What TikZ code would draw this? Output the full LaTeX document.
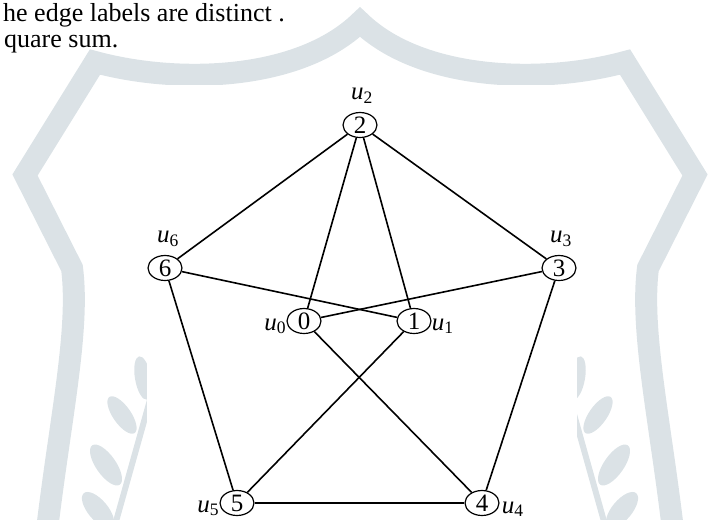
\documentclass[tikz,border=0pt]{standalone}
\usepackage{fontspec}
\setmainfont{Liberation Serif}
\usepackage{xcolor}
\usepackage{tikz}
\usetikzlibrary{shapes.geometric}
\definecolor{wmark}{RGB}{219,226,230}

\begin{document}
\begin{tikzpicture}[x=1pt, y=-1pt,
  vtx/.style={ellipse, draw, line width=1.2pt, minimum width=34pt,
              minimum height=25pt, inner sep=0pt, fill=white,
              font=\fontsize{25}{25}\selectfont},
  ulab/.style={inner sep=0pt, font=\fontsize{25}{25}\selectfont},
  edge/.style={line width=1.6pt},
  txt/.style={anchor=base west, inner sep=0pt, font=\fontsize{26}{30}\selectfont},
  leaf/.style={fill=wmark}
]
\useasboundingbox (0,0) rectangle (713,520);

%% ---- watermark (shield + branches) ----
\draw[wmark, line width=22pt, line join=miter]
  (47,530) .. controls (60,420) and (80,330) .. (72,268) -- (25,175) -- (95,62)
  .. controls (180,85) and (300,80) .. (360,22)
  .. controls (420,80) and (540,85) .. (625,62) -- (695,175) -- (648,268)
  .. controls (640,330) and (660,420) .. (673,530);
\foreach \sx/\dx in {1/0, -1/720} {
  \begin{scope}[xshift=\dx pt, xscale=\sx]
    \draw[wmark, line width=6pt] (150,400) -- (115,525);
    \fill[leaf, rotate around={10:(143,378)}] (143,378) ellipse [x radius=8, y radius=22];
    \fill[leaf, rotate around={35:(122,415)}] (122,415) ellipse [x radius=9, y radius=22];
    \fill[leaf, rotate around={35:(106,465)}] (106,465) ellipse [x radius=10, y radius=24];
    \fill[leaf, rotate around={40:(98,510)}] (98,510) ellipse [x radius=10, y radius=22];
  \end{scope}
}
\fill[white] (147,85) rectangle (577,522);

%% ---- caption text ----
\node[txt] (capA) at (3,21) {he edge labels are distinct .};
\node[txt] (capB) at (4,47) {quare sum.};

%% ---- vertices ----
\node[vtx] (v2) at (360,125) {2};
\node[vtx] (v6) at (165,268) {6};
\node[vtx] (v3) at (559,268) {3};
\node[vtx] (v0) at (304,321) {0};
\node[vtx] (v1) at (414,321) {1};
\node[vtx] (v5) at (237,503) {5};
\node[vtx] (v4) at (482,503) {4};

%% ---- edges ----
\draw[edge] (v2) -- (v6);
\draw[edge] (v2) -- (v3);
\draw[edge] (v6) -- (v5);
\draw[edge] (v3) -- (v4);
\draw[edge] (v5) -- (v4);
\draw[edge] (v2) -- (v0);
\draw[edge] (v2) -- (v1);
\draw[edge] (v6) -- (v1);
\draw[edge] (v3) -- (v0);
\draw[edge] (v0) -- (v4);
\draw[edge] (v1) -- (v5);

%% ---- vertex names ----
\node[ulab, anchor=base, xshift=2pt, yshift=12pt] (l2) at (v2.north) {\textit{u}\textsubscript{2}};
\node[ulab, anchor=base, xshift=3pt, yshift=12pt] (l6) at (v6.north) {\textit{u}\textsubscript{6}};
\node[ulab, anchor=base, xshift=2pt, yshift=12pt] (l3) at (v3.north) {\textit{u}\textsubscript{3}};
\node[ulab, anchor=base east, yshift=-9pt] (l0) at (v0.west) {\textit{u}\textsubscript{0}};
\node[ulab, anchor=base west, yshift=-9pt] (l1) at (v1.east) {\textit{u}\textsubscript{1}};
\node[ulab, anchor=base east, yshift=-9pt] (l5) at (v5.west) {\textit{u}\textsubscript{5}};
\node[ulab, anchor=base west, xshift=2pt, yshift=-10pt] (l4) at (v4.east) {\textit{u}\textsubscript{4}};
\end{tikzpicture}
\end{document}
